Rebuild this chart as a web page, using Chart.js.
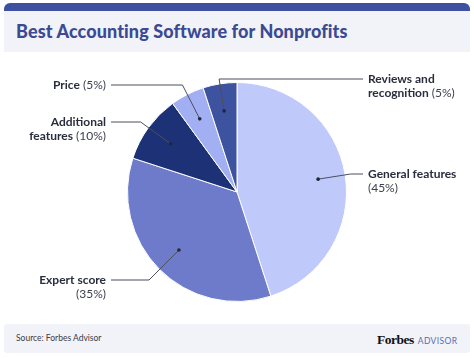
<!DOCTYPE html>
<html>
<head>
<meta charset="utf-8">
<script src="https://cdn.jsdelivr.net/npm/chart.js@4/dist/chart.umd.min.js"></script>
<style>
  html, body { margin:0; padding:0; background:#ffffff; width:474px; height:358px; overflow:hidden; }
  #topbar { position:absolute; left:4px; top:3px; width:466px; height:8px; background:#3d51a0; border-radius:6px 6px 0 0; }
  #head { position:absolute; left:4px; top:11px; width:466px; height:41px; background:#f1f3f9; }
  #title { position:absolute; left:12px; top:9px; font-family:Lato, sans-serif; font-weight:900; font-size:18px; color:#3b4a93; white-space:nowrap; letter-spacing:0.1px; }
  #foot { position:absolute; left:4px; top:324px; width:466px; height:29px; background:#f1f3f9; border-radius:3px; }
  #src { position:absolute; left:12px; top:9px; font-family:Lato, sans-serif; font-size:8.5px; color:#3a3d48; }
  #brand { position:absolute; left:373px; top:6px; white-space:nowrap; }
  #forbes { font-family:"Liberation Serif", "DejaVu Serif", serif; font-weight:700; font-size:13.5px; color:#111; letter-spacing:-0.5px; }
  #advisor { font-family:Lato, sans-serif; font-size:8.5px; color:#5b6cb3; letter-spacing:0.4px; margin-left:4px; }
  #c { position:absolute; left:0; top:0; }
</style>
</head>
<body>
<div id="topbar"></div>
<div id="head"><div id="title">Best Accounting Software for Nonprofits</div></div>
<div id="foot"><div id="src">Source: Forbes Advisor</div><div id="brand"><span id="forbes">Forbes</span><span id="advisor">ADVISOR</span></div></div>
<canvas id="c" width="474" height="358"></canvas>
<script>
const categories = ['General features', 'Expert score', 'Additional features', 'Price', 'Reviews and recognition'];
const shares = [45, 35, 10, 5, 5];
const sliceColors = ['#c0cafa', '#6d7bca', '#1d3177', '#a3aff3', '#3e539f'];
// how each category label is broken into lines; the percentage is appended
const labelLines = [
  ['General features', ''],
  ['Expert score', ''],
  ['Additional', 'features'],
  ['Price'],
  ['Reviews and', 'recognition']
];

// layout of the callouts (positions only)
const callouts = [
  { side: 'right', lineY: 174, textX: 368 },
  { side: 'left',  lineY: 280, textX: 106 },
  { side: 'left',  lineY: 122, textX: 106 },
  { side: 'left',  lineY: 85,  textX: 106 },
  { side: 'right', lineY: 79,  textX: 368 }
];

const calloutPlugin = {
  id: 'callouts',
  afterDraw(chart) {
    const ctx = chart.ctx;
    const meta = chart.getDatasetMeta(0);
    const boldFont = '700 12px Lato, sans-serif';
    const regFont = '400 12px Lato, sans-serif';
    meta.data.forEach((arc, i) => {
      const p = arc.getProps(['x', 'y', 'startAngle', 'endAngle', 'outerRadius'], true);
      const mid = (p.startAngle + p.endAngle) / 2;
      const dr = p.outerRadius * 0.75;
      const dx = p.x + Math.cos(mid) * dr;
      const dy = p.y + Math.sin(mid) * dr;
      const c = callouts[i];
      const t = (c.lineY - dy) / Math.sin(mid);
      const ex = dx + Math.cos(mid) * t;
      const lineEnd = c.side === 'left' ? c.textX + 5 : c.textX - 5;
      ctx.save();
      ctx.strokeStyle = '#4b4e5c';
      ctx.lineWidth = 1;
      ctx.beginPath();
      ctx.moveTo(dx, dy);
      ctx.lineTo(ex, c.lineY);
      ctx.lineTo(lineEnd, c.lineY);
      ctx.stroke();
      ctx.fillStyle = '#23263a';
      ctx.beginPath();
      ctx.arc(dx, dy, 1.8, 0, Math.PI * 2);
      ctx.fill();
      const pct = '(' + shares[i] + '%)';
      const lines = labelLines[i];
      ctx.textBaseline = 'middle';
      lines.forEach((ln, k) => {
        const y = c.lineY + k * 14;
        const isLast = k === lines.length - 1;
        const segs = [];
        if (ln) segs.push({ t: ln, b: true });
        if (isLast) segs.push({ t: (ln ? ' ' : '') + pct, b: false });
        let total = 0;
        segs.forEach(s => { ctx.font = s.b ? boldFont : regFont; s.w = ctx.measureText(s.t).width; total += s.w; });
        let x = c.side === 'left' ? c.textX - total : c.textX;
        segs.forEach(s => {
          ctx.font = s.b ? boldFont : regFont;
          ctx.fillStyle = s.b ? '#2a2d3d' : '#3c3f4d';
          ctx.textAlign = 'left';
          ctx.fillText(s.t, x, y);
          x += s.w;
        });
      });
      ctx.restore();
    });
  }
};

new Chart(document.getElementById('c'), {
  type: 'pie',
  data: {
    labels: categories,
    datasets: [{
      data: shares,
      backgroundColor: sliceColors,
      borderColor: '#ffffff',
      borderWidth: 1
    }]
  },
  options: {
    responsive: false,
    animation: false,
    layout: { padding: { top: 82, bottom: 56, left: 0, right: 0 } },
    plugins: { legend: { display: false }, tooltip: { enabled: false } }
  },
  plugins: [calloutPlugin]
});
</script>
</body>
</html>
